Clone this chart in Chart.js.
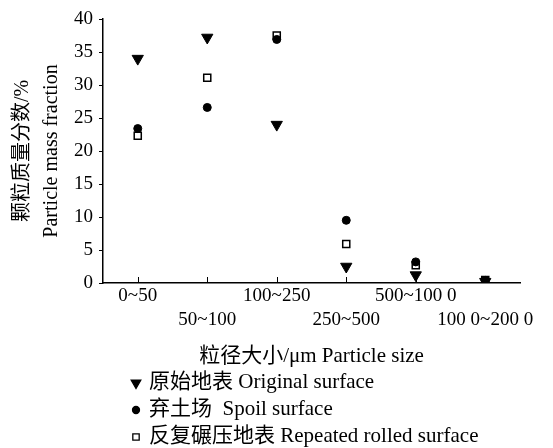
<!DOCTYPE html>
<html>
<head>
<meta charset="utf-8">
<script src="https://cdn.jsdelivr.net/npm/chart.js@4/dist/chart.umd.min.js"></script>
<style>
  body { margin: 0; background: #fff; }
  #wrap { width: 553px; height: 448px; }
</style>
</head>
<body>
<div id="wrap"><canvas id="chart" width="553" height="448"></canvas></div>
<script>
const sizeLabels = ['0~50', '50~100', '100~250', '250~500', '500~100 0', '100 0~200 0'];
const originalSurface = [34, 37.2, 24, 2.5, 1.2, 0.2];
const spoilSurface = [23.4, 26.6, 36.9, 9.5, 3.2, 0.4];
const rolledSurface = [22.3, 31.1, 37.5, 5.9, 2.7, 0.45];
const yTicks = [0, 5, 10, 15, 20, 25, 30, 35, 40];

const FONT = '"Liberation Serif", "Times New Roman", "Noto Sans CJK SC", serif';

// x ticks point up into the plot, so draw them by hand
const innerTicks = {
  id: 'innerTicks',
  afterDatasetsDraw(chart) {
    const ctx = chart.ctx;
    const xs = chart.scales.x;
    const bottom = chart.chartArea.bottom;
    ctx.save();
    ctx.strokeStyle = '#000';
    ctx.lineWidth = 1;
    sizeLabels.forEach((_, i) => {
      const px = Math.round(xs.getPixelForValue(i)) + 0.5;
      ctx.beginPath();
      ctx.moveTo(px, bottom);
      ctx.lineTo(px, bottom - 6);
      ctx.stroke();
    });
    ctx.restore();
  }
};

// legend stacked under the x title, left aligned
const stackedLegend = {
  id: 'stackedLegend',
  afterDraw(chart) {
    const ctx = chart.ctx;
    const rows = [383, 410, 437];
    ctx.save();
    chart.data.datasets.forEach((ds, i) => {
      const y = rows[i];
      ctx.fillStyle = ds.backgroundColor;
      ctx.strokeStyle = ds.borderColor;
      ctx.lineWidth = 1.3;
      Chart.helpers.drawPoint(ctx, {
        pointStyle: ds.pointStyle,
        rotation: ds.rotation || 0,
        radius: ds.legendRadius,
        borderWidth: 1.3
      }, 136, y);
      ctx.fillStyle = '#000';
      ctx.font = '21px ' + FONT;
      ctx.textBaseline = 'middle';
      ctx.textAlign = 'left';
      ctx.fillText(ds.label, 149, y - 1);
    });
    ctx.restore();
  }
};

new Chart(document.getElementById('chart'), {
  type: 'scatter',
  data: {
    labels: sizeLabels,
    datasets: [
      {
        label: '原始地表 Original surface',
        data: originalSurface,
        pointStyle: 'triangle',
        rotation: 180,
        pointRadius: 6.5,
        legendRadius: 5.5,
        backgroundColor: '#000',
        borderColor: '#000',
        borderWidth: 1
      },
      {
        label: '弃土场  Spoil surface',
        data: spoilSurface,
        pointStyle: 'circle',
        pointRadius: 4,
        legendRadius: 3.5,
        backgroundColor: '#000',
        borderColor: '#000',
        borderWidth: 1
      },
      {
        label: '反复碾压地表 Repeated rolled surface',
        data: rolledSurface,
        pointStyle: 'rect',
        pointRadius: 5,
        legendRadius: 4.5,
        backgroundColor: '#fff',
        borderColor: '#000',
        borderWidth: 1.5
      }
    ]
  },
  options: {
    responsive: false,
    animation: false,
    layout: { padding: { top: 19, right: 33, bottom: 78, left: 0 } },
    plugins: {
      legend: { display: false },
      tooltip: { enabled: false }
    },
    scales: {
      x: {
        type: 'category',
        offset: true,
        afterFit(scale) { scale.height = 87; },
        grid: { display: false, drawTicks: false },
        border: { display: true, color: '#000', width: 1.5 },
        ticks: {
          color: '#000',
          font: { family: FONT, size: 19, lineHeight: 1.26 },
          padding: 1,
          maxRotation: 0,
          autoSkip: false,
          callback(value, index) {
            const lbl = sizeLabels[index];
            return index % 2 ? ['', lbl] : lbl;
          }
        },
        title: {
          display: true,
          text: '粒径大小/μm Particle size',
          color: '#000',
          font: { family: FONT, size: 21 },
          padding: { top: 0, bottom: 1 }
        }
      },
      y: {
        min: 0,
        max: 40,
        afterFit(scale) { scale.width = 103; },
        afterBuildTicks(scale) { scale.ticks = yTicks.map(v => ({ value: v })); },
        grid: { display: true, drawOnChartArea: false, tickLength: 4, color: '#000', lineWidth: 1 },
        border: { display: true, color: '#000', width: 1.5 },
        ticks: {
          color: '#000',
          font: { family: FONT, size: 19 },
          padding: 6
        },
        title: {
          display: true,
          text: ['颗粒质量分数/%', 'Particle mass fraction'],
          color: '#000',
          font: { family: FONT, size: 20, lineHeight: 1.45 },
          padding: { top: 8, bottom: 0 }
        }
      }
    }
  },
  plugins: [innerTicks, stackedLegend]
});
</script>
</body>
</html>
